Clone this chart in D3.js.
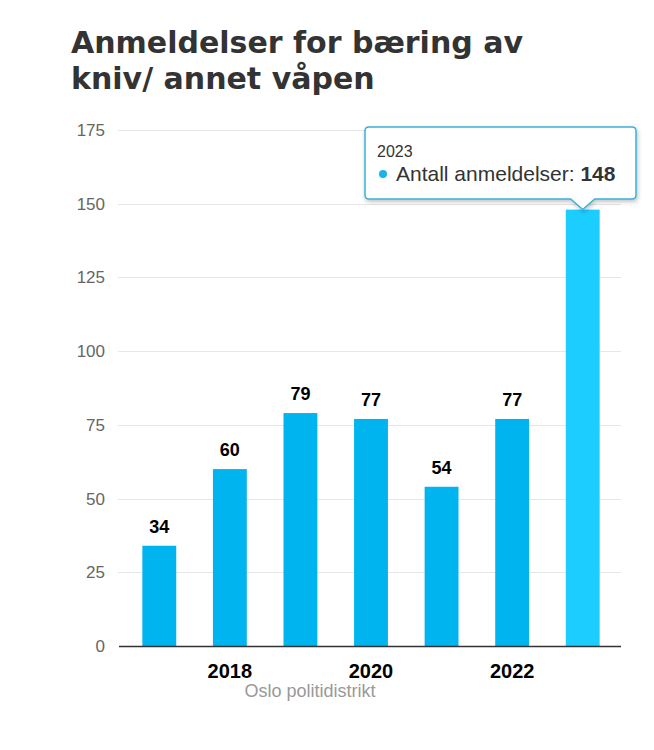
<!DOCTYPE html>
<html>
<head>
<meta charset="utf-8">
<script src="https://cdn.jsdelivr.net/npm/d3@7"></script>
<style>
html,body{margin:0;padding:0;background:#fff;}
svg{display:block;}
</style>
</head>
<body>
<svg id="chart" width="654" height="750"></svg>
<script>
const years = [2017, 2018, 2019, 2020, 2021, 2022, 2023];
const counts = [34, 60, 79, 77, 54, 77, 148];
const yTicks = [0, 25, 50, 75, 100, 125, 150, 175];
const xTickLabels = [2018, 2020, 2022];
const titleLines = ["Anmeldelser for bæring av", "kniv/ annet våpen"];
const xAxisTitle = "Oslo politidistrikt";
const seriesName = "Antall anmeldelser";
const hoverIndex = 6;

const svg = d3.select("#chart");
const x = d3.scaleBand().domain(years).range([124, 618]).paddingInner(0.52).paddingOuter(0.26);
const y = d3.scaleLinear().domain([0, 175]).range([646, 130]);
const sans = "Liberation Sans, Arial, Helvetica, sans-serif";

// title
svg.append("text")
  .attr("x", 71).attr("y", 53)
  .attr("font-family", "DejaVu Sans").attr("font-weight", "bold")
  .attr("font-size", 30).attr("fill", "#333")
  .selectAll("tspan").data(titleLines).join("tspan")
  .attr("x", 71).attr("dy", (d, i) => i === 0 ? 0 : 36).text(d => d);

// gridlines
svg.append("g").selectAll("line").data(yTicks.filter(d => d > 0)).join("line")
  .attr("x1", 118).attr("x2", 621)
  .attr("y1", d => Math.round(y(d)) + 0.5).attr("y2", d => Math.round(y(d)) + 0.5)
  .attr("stroke", "#e6e6e6").attr("stroke-width", 1);

// y labels
svg.append("g").selectAll("text").data(yTicks).join("text")
  .attr("x", 105).attr("y", d => y(d) + 6)
  .attr("text-anchor", "end")
  .attr("font-family", sans)
  .attr("font-size", 17).attr("fill", "#666")
  .text(d => d);

// bars
svg.append("g").selectAll("rect").data(years).join("rect")
  .attr("x", d => x(d)).attr("width", x.bandwidth())
  .attr("y", (d, i) => y(counts[i])).attr("height", (d, i) => y(0) - y(counts[i]))
  .attr("fill", (d, i) => i === hoverIndex ? "#1ccdff" : "#00b4ef");

// axis line
svg.append("line").attr("x1", 119).attr("x2", 621)
  .attr("y1", y(0) + 0.5).attr("y2", y(0) + 0.5)
  .attr("stroke", "#333").attr("stroke-width", 1.5);

// data labels
svg.append("g").selectAll("text").data(years.slice(0, 6)).join("text")
  .attr("x", d => x(d) + x.bandwidth() / 2)
  .attr("y", (d, i) => y(counts[i]) - 13)
  .attr("text-anchor", "middle")
  .attr("font-family", sans)
  .attr("font-weight", "bold").attr("font-size", 18).attr("fill", "#000")
  .text((d, i) => counts[i]);

// x labels
svg.append("g").selectAll("text").data(xTickLabels).join("text")
  .attr("x", d => x(d) + x.bandwidth() / 2)
  .attr("y", 678)
  .attr("text-anchor", "middle")
  .attr("font-family", sans)
  .attr("font-weight", "bold").attr("font-size", 20).attr("fill", "#000")
  .text(d => d);

svg.append("text").attr("x", 310).attr("y", 697)
  .attr("text-anchor", "middle")
  .attr("font-family", sans)
  .attr("font-size", 18).attr("fill", "#999")
  .text(xAxisTitle);

// tooltip
const hx = x(years[hoverIndex]) + x.bandwidth() / 2;
const hy = y(counts[hoverIndex]);
const bx0 = 365, bx1 = 636, by0 = 127, by1 = 199, r = 4;
const tipPath = `M${bx0 + r},${by0} L${bx1 - r},${by0} Q${bx1},${by0} ${bx1},${by0 + r} L${bx1},${by1 - r} Q${bx1},${by1} ${bx1 - r},${by1} L${hx + 12},${by1} L${hx},${hy} L${hx - 12},${by1} L${bx0 + r},${by1} Q${bx0},${by1} ${bx0},${by1 - r} L${bx0},${by0 + r} Q${bx0},${by0} ${bx0 + r},${by0} Z`;
const defs = svg.append("defs");
const f = defs.append("filter").attr("id", "sh").attr("x", "-10%").attr("y", "-10%").attr("width", "130%").attr("height", "150%");
f.append("feDropShadow").attr("dx", 1).attr("dy", 2).attr("stdDeviation", 2).attr("flood-color", "#000").attr("flood-opacity", 0.25);
svg.append("path").attr("d", tipPath).attr("fill", "#fff")
  .attr("stroke", "#3ab0d8").attr("stroke-width", 1.5).attr("filter", "url(#sh)");
svg.append("text").attr("x", 377).attr("y", 157)
  .attr("font-family", sans)
  .attr("font-size", 16).attr("fill", "#333").text(years[hoverIndex]);
svg.append("circle").attr("cx", 383).attr("cy", 174).attr("r", 4).attr("fill", "#1ab3ea");
const t2 = svg.append("text").attr("x", 396).attr("y", 181)
  .attr("font-family", sans)
  .attr("font-size", 21).attr("fill", "#333");
t2.append("tspan").text(seriesName + ": ");
t2.append("tspan").attr("font-weight", "bold").text(counts[hoverIndex]);
</script>
</body>
</html>
